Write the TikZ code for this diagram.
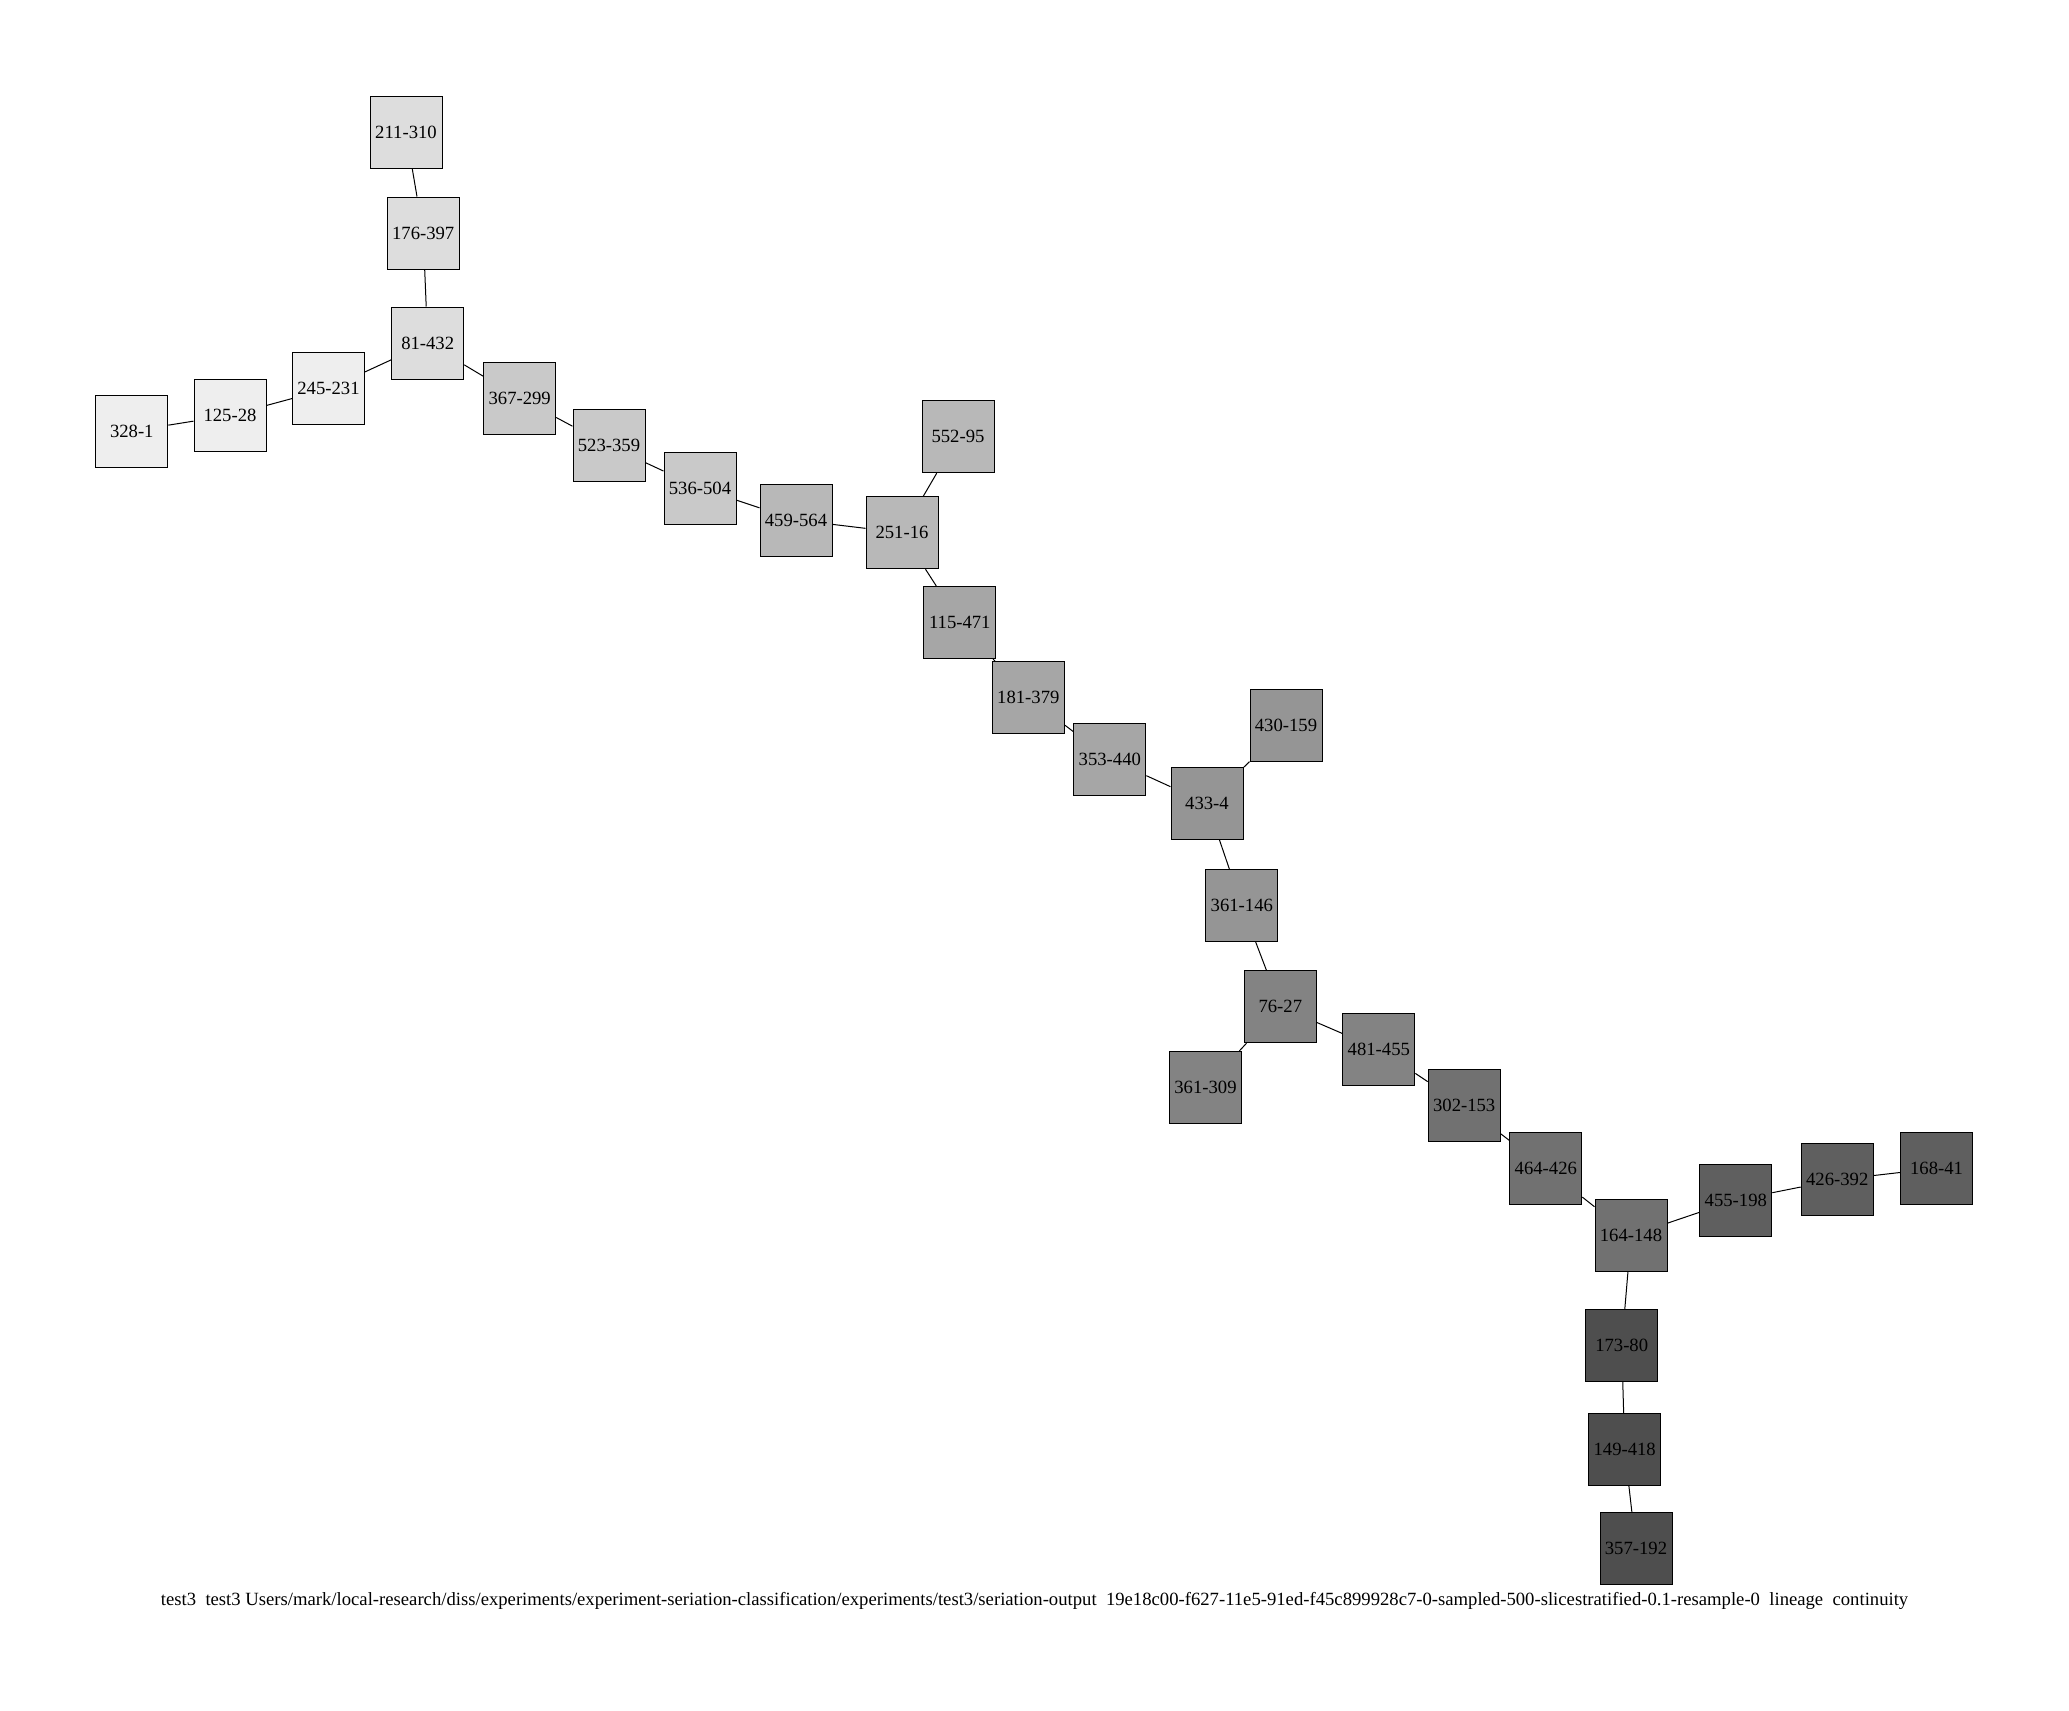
\documentclass[tikz,border=0pt]{standalone}
\usepackage{fontspec}
\setmainfont{Liberation Serif}
\definecolor{ga}{HTML}{EEEEEE}
\definecolor{gb}{HTML}{DDDDDD}
\definecolor{gc}{HTML}{C9C9C9}
\definecolor{gd}{HTML}{B8B8B8}
\definecolor{ge}{HTML}{A6A6A6}
\definecolor{gf}{HTML}{959595}
\definecolor{gg}{HTML}{838383}
\definecolor{gh}{HTML}{717171}
\definecolor{gi}{HTML}{5F5F5F}
\definecolor{gj}{HTML}{4E4E4E}
\begin{document}
\begin{tikzpicture}[x=0.75pt,y=-0.75pt,
  nd/.style={draw=black, line width=0.75pt, minimum width=54pt, minimum height=54pt,
             inner sep=0pt, font=\fontsize{14}{16}\selectfont},
  ed/.style={draw=black, line width=0.75pt}]
\useasboundingbox (0,0) rectangle (2069,1710);
% group a
\node[nd, fill=ga] (n3281)   at (131.8,431) {328-1};
\node[nd, fill=ga] (n12528)  at (230,415.3) {125-28};
\node[nd, fill=ga] (n245231) at (328.5,388.7) {245-231};
% group b
\node[nd, fill=gb] (n211310) at (406,132) {211-310};
\node[nd, fill=gb] (n176397) at (423.2,233) {176-397};
\node[nd, fill=gb] (n81432)  at (427.7,343) {81-432};
% group c
\node[nd, fill=gc] (n367299) at (519.7,398) {367-299};
\node[nd, fill=gc] (n523359) at (609,445.7) {523-359};
\node[nd, fill=gc] (n536504) at (700,488) {536-504};
% group d
\node[nd, fill=gd] (n459564) at (796,520) {459-564};
\node[nd, fill=gd] (n25116)  at (902,532.7) {251-16};
\node[nd, fill=gd] (n55295)  at (958,436.7) {552-95};
% group e
\node[nd, fill=ge] (n115471) at (959.8,622.5) {115-471};
\node[nd, fill=ge] (n181379) at (1028.3,697.7) {181-379};
\node[nd, fill=ge] (n353440) at (1109.8,759) {353-440};
% group f
\node[nd, fill=gf] (n430159) at (1286,725.8) {430-159};
\node[nd, fill=gf] (n4334)   at (1207,803.3) {433-4};
\node[nd, fill=gf] (n361146) at (1241.8,905.6) {361-146};
% group g
\node[nd, fill=gg] (n7627)   at (1280.3,1006.7) {76-27};
\node[nd, fill=gg] (n361309) at (1205.5,1087.5) {361-309};
\node[nd, fill=gg] (n481455) at (1378.8,1049.2) {481-455};
% group h
\node[nd, fill=gh] (n302153) at (1464.2,1105.8) {302-153};
\node[nd, fill=gh] (n464426) at (1545.8,1168.3) {464-426};
\node[nd, fill=gh] (n164148) at (1631,1235.5) {164-148};
% group i
\node[nd, fill=gi] (n455198) at (1735.8,1200) {455-198};
\node[nd, fill=gi] (n426392) at (1837.2,1179.7) {426-392};
\node[nd, fill=gi] (n16841)  at (1936.5,1168.3) {168-41};
% group j
\node[nd, fill=gj] (n17380)  at (1621.7,1345.7) {173-80};
\node[nd, fill=gj] (n149418) at (1624.7,1449.3) {149-418};
\node[nd, fill=gj] (n357192) at (1636,1548.3) {357-192};
% edges
\draw[ed] (n211310) -- (n176397);
\draw[ed] (n176397) -- (n81432);
\draw[ed] (n81432) -- (n245231);
\draw[ed] (n245231) -- (n12528);
\draw[ed] (n12528) -- (n3281);
\draw[ed] (n81432) -- (n367299);
\draw[ed] (n367299) -- (n523359);
\draw[ed] (n523359) -- (n536504);
\draw[ed] (n536504) -- (n459564);
\draw[ed] (n459564) -- (n25116);
\draw[ed] (n25116) -- (n55295);
\draw[ed] (n25116) -- (n115471);
\draw[ed] (n115471) -- (n181379);
\draw[ed] (n181379) -- (n353440);
\draw[ed] (n353440) -- (n4334);
\draw[ed] (n4334) -- (n430159);
\draw[ed] (n4334) -- (n361146);
\draw[ed] (n361146) -- (n7627);
\draw[ed] (n7627) -- (n361309);
\draw[ed] (n7627) -- (n481455);
\draw[ed] (n481455) -- (n302153);
\draw[ed] (n302153) -- (n464426);
\draw[ed] (n464426) -- (n164148);
\draw[ed] (n164148) -- (n455198);
\draw[ed] (n455198) -- (n426392);
\draw[ed] (n426392) -- (n16841);
\draw[ed] (n164148) -- (n17380);
\draw[ed] (n17380) -- (n149418);
\draw[ed] (n149418) -- (n357192);
% caption
\node[anchor=base, inner sep=0pt, font=\fontsize{14}{16}\selectfont] (cap) at (1034.5,1605)
  {test3\ \ test3 Users/mark/local-research/diss/experiments/experiment-seriation-classification/experiments/test3/seriation-output\ \ 19e18c00-f627-11e5-91ed-f45c899928c7-0-sampled-500-slicestratified-0.1-resample-0\ \ lineage\ \ continuity};
\end{tikzpicture}
\end{document}
